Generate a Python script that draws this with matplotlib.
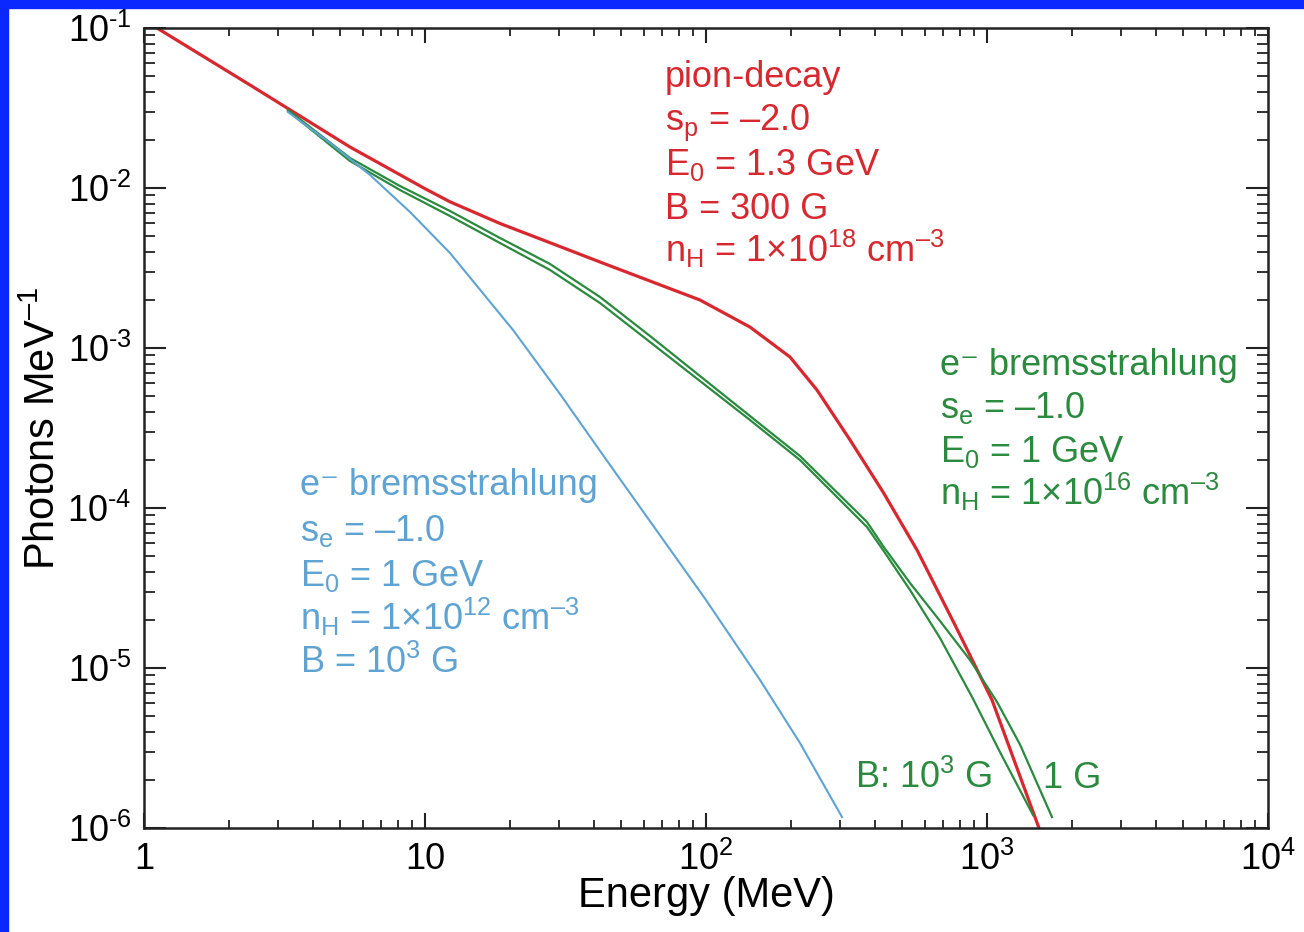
import numpy as np
import matplotlib
matplotlib.use("Agg")
import matplotlib.pyplot as plt
from matplotlib.patches import Rectangle

plt.rcParams["font.family"] = ["Liberation Sans", "DejaVu Sans"]
plt.rcParams["mathtext.fontset"] = "custom"
plt.rcParams["mathtext.rm"] = "Liberation Sans"
plt.rcParams["mathtext.it"] = "Liberation Sans"
plt.rcParams["mathtext.bf"] = "Liberation Sans:bold"

# pion-decay spectrum (MeV, photons/MeV)
pion_E = [1.112, 2.384, 5.408, 8.147, 10.0, 12.27, 18.49, 27.86, 41.96, 63.19, 95.19,
          143.4, 199.0, 248.3, 325.5, 426.6, 563.6, 769.4, 1042, 1531]
pion_F = [0.1, 0.04403, 0.01804, 0.0121, 0.0099, 0.0082, 0.0060, 0.00455,
          0.003447, 0.002622, 0.001995, 0.001352, 8.786e-4, 5.463e-4, 2.661e-4,
          1.259e-4, 5.463e-5, 1.857e-5, 6.31e-6, 1.0e-6]

# e- bremsstrahlung, n_H = 1e16, B = 1 G
brem1G_E = [3.253, 5.408, 8.147, 12.27, 18.49, 27.86, 41.96, 63.19, 95.19, 143.4, 216.0,
            374.1, 426.6, 532.1, 680.3, 869.9, 1086, 1311, 1703]
brem1G_F = [0.03073, 0.01540, 0.01029, 0.007183, 0.004870, 0.003350, 0.002083, 0.001189,
            6.683e-4, 3.758e-4, 2.113e-4, 8.177e-5, 5.788e-5, 3.398e-5, 1.967e-5,
            1.122e-5, 6.13e-6, 3.32e-6, 1.171e-6]

# e- bremsstrahlung, n_H = 1e16, B = 1e3 G
brem1kG_E = [3.253, 5.408, 8.147, 12.27, 18.49, 27.86, 41.96, 63.19, 95.19, 143.4, 216.0,
             374.1, 426.6, 532.1, 680.3, 885.0, 1112, 1458]
brem1kG_F = [0.03029, 0.01475, 0.009716, 0.006683, 0.004529, 0.003073, 0.001910, 0.001090,
             6.219e-4, 3.548e-4, 1.995e-4, 7.604e-5, 5.463e-5, 3.073e-5, 1.540e-5,
             6.586e-6, 2.985e-6, 1.205e-6]

# e- bremsstrahlung, n_H = 1e12, B = 1e3 G
bremlow_E = [3.253, 4.591, 6.374, 8.844, 12.27, 20.57, 30.23, 43.72, 100.0, 155.7, 216.0, 304.8]
bremlow_F = [0.02985, 0.01911, 0.01206, 0.007079, 0.003925, 0.001296, 5.158e-4, 2.054e-4,
             2.661e-5, 8.414e-6, 3.398e-6, 1.171e-6]

RED = "#d7282f"
GREEN = "#2a8a3e"
BLUE = "#5fa3d3"

W, H = 1304, 932
fig = plt.figure(figsize=(W / 100, H / 100), dpi=100)
ax = fig.add_axes([144 / W, 1 - 828 / H, 1124 / W, 800 / H])

ax.plot(pion_E, pion_F, color=RED, lw=2.3)
ax.plot(brem1G_E, brem1G_F, color=GREEN, lw=1.6)
ax.plot(brem1kG_E, brem1kG_F, color=GREEN, lw=1.6)
ax.plot(bremlow_E, bremlow_F, color=BLUE, lw=1.5)

ax.set_xscale("log")
ax.set_yscale("log")
ax.set_xlim(1, 1e4)
ax.set_ylim(1e-6, 1e-1)

xt = [1, 10, 100, 1000, 10000]
xl = ["1", "10", "10$^2$", "10$^3$", "10$^4$"]
yt = [1e-6, 1e-5, 1e-4, 1e-3, 1e-2, 1e-1]
yl = ["10$^{\\text{-6}}$", "10$^{\\text{-5}}$", "10$^{\\text{-4}}$",
      "10$^{\\text{-3}}$", "10$^{\\text{-2}}$", "10$^{\\text{-1}}$"]
ax.set_xticks(xt)
ax.set_xticklabels(xl, fontsize=26)
ax.set_yticks(yt)
ax.set_yticklabels(yl, fontsize=26)

for s in ax.spines.values():
    s.set_linewidth(1.8)
    s.set_color("#222222")
ax.tick_params(axis="both", which="both", direction="in", top=True, right=True,
               color="#222222")
ax.tick_params(axis="x", which="major", length=11, width=1.5, pad=10)
ax.tick_params(axis="x", which="minor", length=6, width=1.3)
ax.tick_params(axis="y", which="major", length=16, width=1.5, pad=9)
ax.tick_params(axis="y", which="minor", length=8, width=1.3)

ax.set_xlabel("Energy (MeV)", fontsize=30)
ax.set_ylabel("Photons MeV$^{\u2013\\text{1}}$", fontsize=30)
ax.xaxis.set_label_coords(0.5, (828 - 876) / 800)
ax.yaxis.set_label_coords((64 - 144) / 1124, 0.5)

FS = 26

pion_lines = ["pion-decay", "s$_\\text{p}$ = \u20132.0", "E$_0$ = 1.3 GeV", "B = 300 G",
              "n$_\\text{H}$ = 1\u00d710$^{18}$ cm$^{\u20133}$"]
green_lines = ["e\u207b bremsstrahlung", "s$_\\text{e}$ = \u20131.0", "E$_0$ = 1 GeV",
               "n$_\\text{H}$ = 1\u00d710$^{16}$ cm$^{\u20133}$"]
blue_lines = ["e\u207b bremsstrahlung", "s$_\\text{e}$ = \u20131.0", "E$_0$ = 1 GeV",
              "n$_\\text{H}$ = 1\u00d710$^{12}$ cm$^{\u20133}$", "B = 10$^3$ G"]

for (x0, ys, lines, col) in [(665, [87, 130, 175, 219, 262], pion_lines, RED),
                              (940, [375, 418, 462, 505], green_lines, GREEN),
                              (300, [495, 541, 586, 630, 673], blue_lines, BLUE)]:
    for y, t in zip(ys, lines):
        fig.text(x0 / W, 1 - y / H, t, color=col, fontsize=FS, va="baseline", ha="left")

fig.text(855 / W, 1 - 788 / H, "B: 10$^3$ G", color=GREEN, fontsize=FS, va="baseline")
fig.text(1043 / W, 1 - 788 / H, "1 G", color=GREEN, fontsize=FS, va="baseline")

# blue frame on left and top edges
fig.patches.append(Rectangle((0, 0), 8 / W, 1, transform=fig.transFigure,
                             color="#0a28ff", zorder=10))
fig.patches.append(Rectangle((0, 1 - 8 / H), 1, 8 / H, transform=fig.transFigure,
                             color="#0a28ff", zorder=10))

fig.savefig("out.png", dpi=100)
